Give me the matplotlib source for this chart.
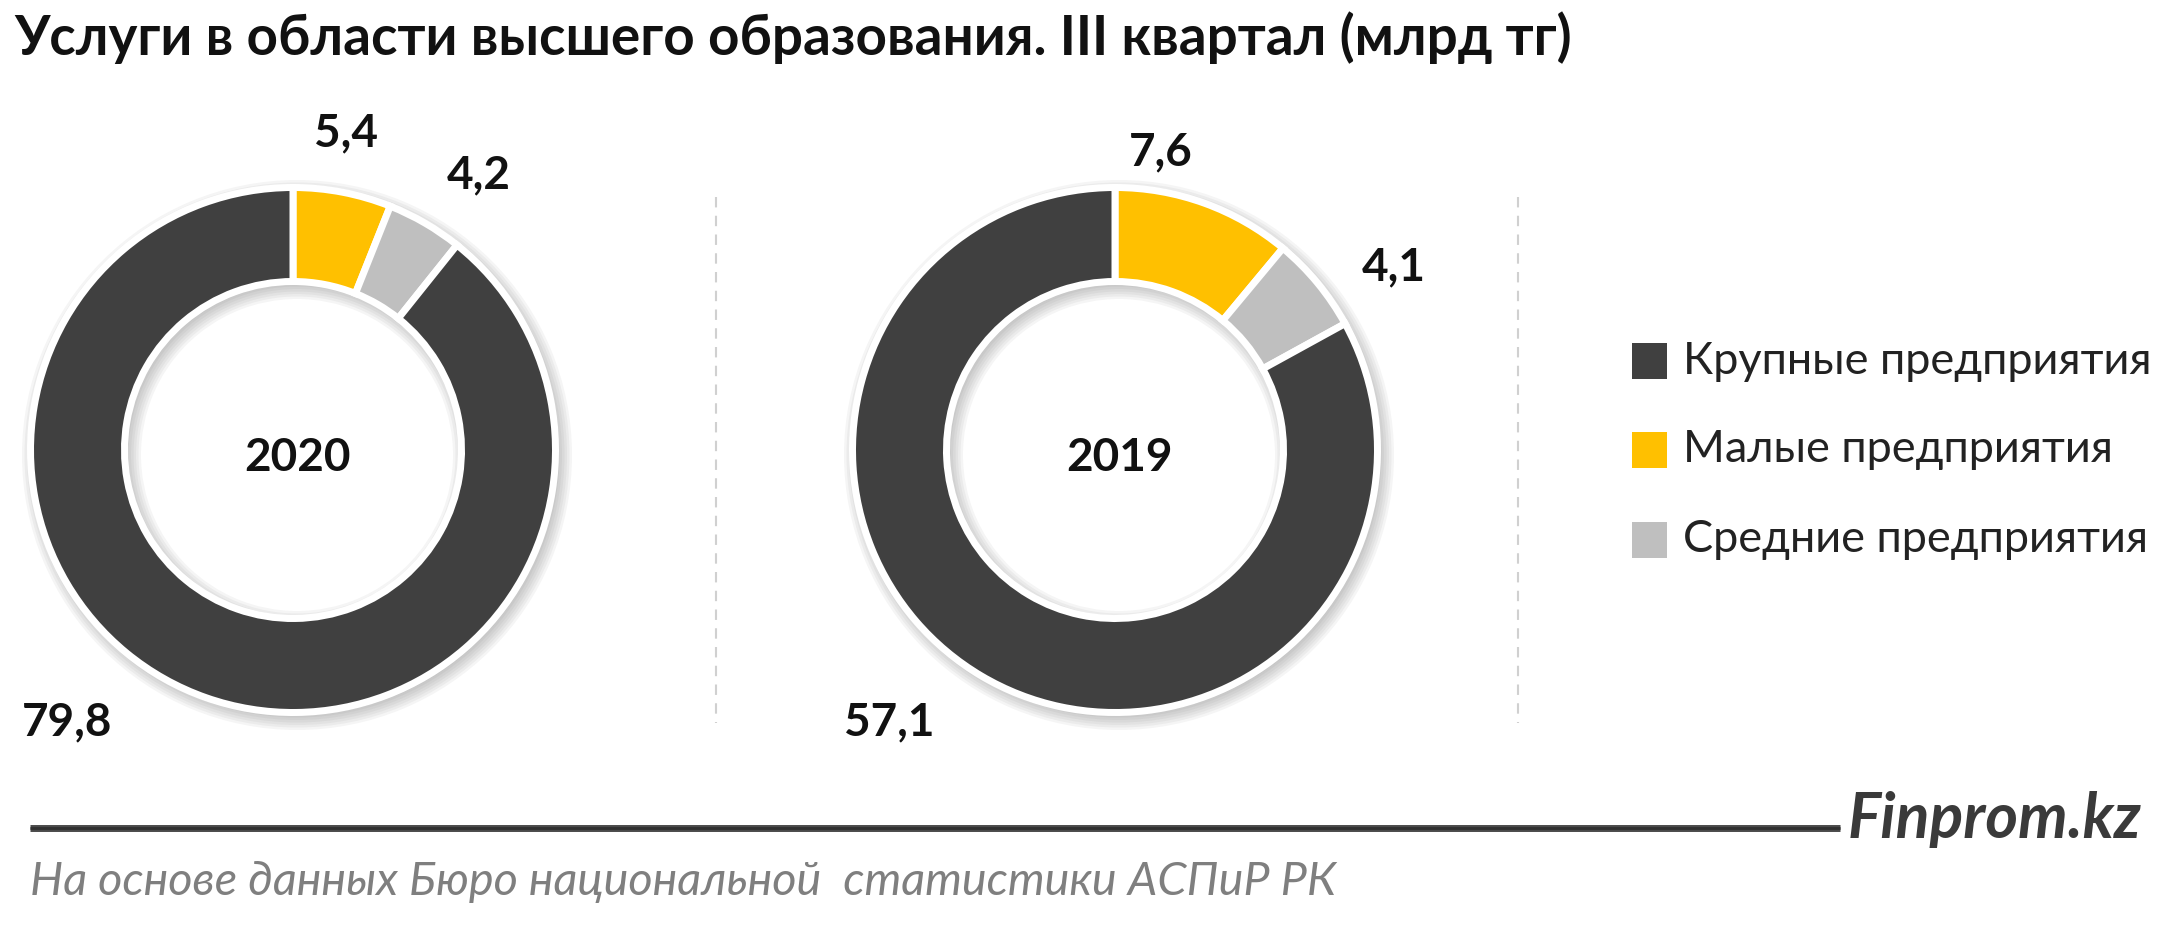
import matplotlib
matplotlib.use("Agg")
import matplotlib.pyplot as plt
from matplotlib.patches import Rectangle, Wedge
from matplotlib.lines import Line2D

plt.rcParams['font.family'] = ['Lato', 'DejaVu Sans']

# ---- data ----
title = "Услуги в области высшего образования. III квартал (млрд тг)"
years = ["2020", "2019"]
categories = ["Малые предприятия", "Средние предприятия", "Крупные предприятия"]
values_2020 = [5.4, 4.2, 79.8]
values_2019 = [7.6, 4.1, 57.1]
legend_order = ["Крупные предприятия", "Малые предприятия", "Средние предприятия"]
source = "На основе данных Бюро национальной  статистики АСПиР РК"
brand = "Finprom.kz"

colors = {"Малые предприятия": "#FFC000",
          "Средние предприятия": "#BFBFBF",
          "Крупные предприятия": "#404040"}

W, H = 2160, 943
fig = plt.figure(figsize=(W / 100, H / 100), dpi=100)
ax = fig.add_axes([0, 0, 1, 1])

def Y(y):
    return H - y

RV, RIN_V = 259, 172          # visible outer / inner radius (px)
EDGE_PX = 7
EDGE_PT = EDGE_PX * 72 / 100
R = RV + EDGE_PX / 2
WIDTH = (RV - RIN_V) + EDGE_PX
centers = [(293, 450), (1115, 450)]
label_pos = [
    [(346, 133), (479, 175), (67, 722)],
    [(1161, 152), (1394, 267), (889, 722)],
]

for vals, yr, (cx, cy), lpos in zip([values_2020, values_2019], years, centers, label_pos):
    # soft drop shadow (down-right), blurred via layered annuli
    sx, sy = cx + 4, Y(cy) - 5
    for k in range(7):
        ro = RV + 1 + k * 2.5
        ri = RIN_V - 1 - k * 2.5
        ax.add_patch(Wedge((sx, sy), ro, 0, 360, width=ro - ri,
                           color="#555555", alpha=0.06, lw=0, zorder=1))
    ax.pie(vals, colors=[colors[c] for c in categories], startangle=90,
           counterclock=False, radius=R, center=(cx, Y(cy)),
           wedgeprops=dict(width=WIDTH, edgecolor="white", linewidth=EDGE_PT,
                           zorder=2))
    ax.text(cx + 5, Y(cy + 8), yr, ha="center", va="center", fontsize=33,
            fontweight="bold", color="#111111", zorder=5)
    for v, (lx, ly) in zip(vals, lpos):
        ax.text(lx, Y(ly), f"{v:.1f}".replace(".", ","), ha="center", va="center",
                fontsize=33, fontweight="bold", color="#111111", zorder=5)

ax.set_xlim(0, W)
ax.set_ylim(0, H)
ax.set_aspect("equal")
ax.axis("off")

# dashed separators
for x in (716, 1518):
    ax.add_line(Line2D([x, x], [Y(197), Y(723)], color="#d0d0d0", lw=1.5,
                       ls=(0, (5, 4)), zorder=0))

# legend
leg_texts = []
for i, c in enumerate(legend_order):
    yc = [361, 450, 540][i]
    ax.add_patch(Rectangle((1632, Y(yc) - 18), 35, 36, color=colors[c], lw=0))
    leg_texts.append(ax.text(1683, Y(yc), c, ha="left", va="center", fontsize=22,
                             color="#222222"))

# title
tt = ax.text(14, Y(38), title, ha="left", va="center", fontsize=34,
             fontweight="bold", color="#111111")

# bottom line
ax.add_line(Line2D([30, 1840], [Y(828), Y(828)], color="#4a4a4a", lw=5,
                   solid_capstyle="butt"))
ax.add_line(Line2D([30, 1840], [Y(828), Y(828)], color="#303030", lw=2,
                   solid_capstyle="butt"))
bt = ax.text(1848, Y(820), brand, ha="left", va="center", fontsize=28,
             fontweight="bold", style="italic", color="#3a3a3a")
st = ax.text(30, Y(882), source, ha="left", va="center", fontsize=22,
             style="italic", color="#7f7f7f")

fig.canvas.draw()
r = fig.canvas.get_renderer()
def fit(t, target):
    w = t.get_window_extent(r).width
    t.set_fontsize(t.get_fontsize() * target / w)

fit(tt, 1559)
fit(leg_texts[0], 469)
for tx in leg_texts[1:]:
    tx.set_fontsize(leg_texts[0].get_fontsize())
fit(bt, 294)
fit(st, 1304)

fig.savefig("out.png", dpi=100, facecolor="white")
